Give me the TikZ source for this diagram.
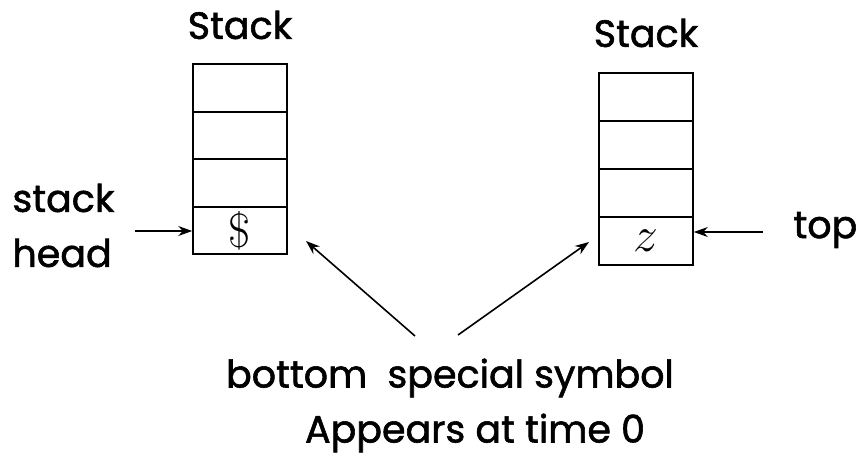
\documentclass[tikz,border=0pt]{standalone}
\usepackage{fontspec}
\newfontfamily\comicfont{Poppins}[FakeBold=1.5]
\usepackage{tikz}
\usetikzlibrary{arrows.meta, positioning}

\begin{document}
\begin{tikzpicture}[x=0.5pt, y=-0.5pt, line width=0.8pt]
  \useasboundingbox (0,0) rectangle (861,460);
  % Left stack
  \node[font=\fontsize{19}{22}\comicfont] (ltitle) at (240, 25) {Stack};
  \foreach \i in {0,1,2,3} {
    \node[draw, minimum width=47pt, minimum height=23.75pt, inner sep=0pt] (l\i) at (240, 88+\i*47.5) {};
  }
  \node[font=\fontsize{24}{28}\selectfont] at (l3) {\$};
  % Right stack
  \node[font=\fontsize{19}{22}\comicfont] (rtitle) at (646, 33) {Stack};
  \foreach \i in {0,1,2,3} {
    \node[draw, minimum width=47pt, minimum height=24pt, inner sep=0pt] (r\i) at (646, 97+\i*48) {};
  }
  \node[font=\fontsize{24}{28}\selectfont] at (r3) {$z$};
  % Labels
  \node[anchor=west, font=\fontsize{19}{22}\comicfont] (stk) at (5, 198) {stack};
  \node[anchor=west, font=\fontsize{19}{22}\comicfont] (hd) at (5, 253) {head};
  \node[anchor=west, font=\fontsize{19}{22}\comicfont] (top) at (786, 230) {top};
  \node[font=\fontsize{19}{22}\comicfont] (bot) at (450, 378) {bottom\ \ special symbol};
  \node[font=\fontsize{19}{22}\comicfont] (time) at (475, 433) {Appears at time 0};
  % Arrows
  \coordinate (ha) at (135, 231);
  \coordinate (ta) at (763, 232);
  \coordinate (bl) at (415, 336);
  \coordinate (br) at (458, 335);
  \coordinate (ld) at (306, 241);
  \coordinate (rd) at (589, 242);
  \draw[-{Stealth[length=7pt, width=5pt]}] (ha) -- (ha -| l3.west);
  \draw[-{Stealth[length=7pt, width=5pt]}] (ta) -- (ta -| r3.east);
  \draw[-{Stealth[length=7pt, width=5pt]}] (bl) -- (ld);
  \draw[-{Stealth[length=7pt, width=5pt]}] (br) -- (rd);
\end{tikzpicture}
\end{document}
